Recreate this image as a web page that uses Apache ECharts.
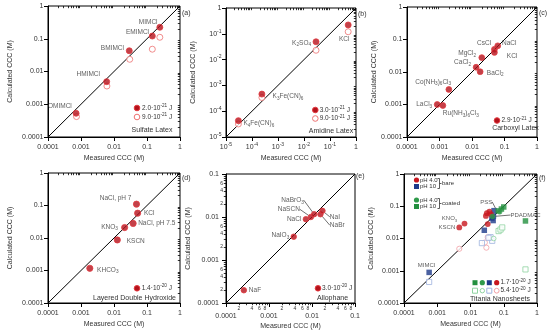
<!DOCTYPE html>
<html><head><meta charset="utf-8">
<script src="https://cdn.jsdelivr.net/npm/echarts@6/dist/echarts.min.js"></script>
<style>html,body{margin:0;padding:0;background:#fff}#c{width:550px;height:333px}</style>
</head><body><div id="c"></div>
<script>
// ---------------- data ----------------
const xTitle = 'Measured CCC (M)';
const yTitle = 'Calculated CCC (M)';
const decadeLabels = ['0.0001', '0.001', '0.01', '0.1', '1'];
const expLabels = ['10^{-5}', '10^{-4}', '10^{-3}', '10^{-2}', '10^{-1}', '1'];
const alloLabels = ['0.0001', '0.001', '0.01', '0.1'];
const alloMinorX = [2, 4, 6, 8];
const alloMinorY = [2, 4, 6];
const panelTags = ['(a)', '(b)', '(c)', '(d)', '(e)', '(f)'];

// (a) Sulfate latex
const aNames = ['OMIMCl', 'HMIMCl', 'BMIMCl', 'EMIMCl', 'MIMCl'];
const aMeasured = [0.00071, 0.0060, 0.029, 0.145, 0.245];
const aCalcLow = [0.00053, 0.0049, 0.043, 0.121, 0.224];
const aMeasuredHigh = [0.00073, 0.0061, 0.030, 0.145, 0.245];
const aCalcHigh = [0.00042, 0.0036, 0.0236, 0.048, 0.111];
const aLegend = ['2.0·10^{-21} J', '9.0·10^{-21} J', 'Sulfate Latex'];

// (b) Amidine latex
const bNames = ['K_4Fe(CN)_6', 'K_3Fe(CN)_6', 'K_2SO_4', 'KCl'];
const bMeasured = [0.000030, 0.00024, 0.029, 0.50];
const bCalcLow = [0.000043, 0.00046, 0.049, 0.22];
const bCalcHigh = [0.000032, 0.00034, 0.023, 0.12];
const bLegend = ['3.0·10^{-21} J', '9.0·10^{-21} J', 'Amidine Latex'];

// (c) Carboxyl latex
const cNames = ['LaCl_3', 'Ru(NH_3)_6Cl_3', 'Co(NH_3)_6Cl_3', 'CaCl_2', 'BaCl_2', 'MgCl_2', 'CsCl', 'KCl', 'NaCl'];
const cMeasured = [0.00085, 0.00127, 0.00194, 0.0134, 0.0178, 0.020, 0.049, 0.049, 0.062];
const cCalc = [0.0010, 0.00093, 0.0029, 0.014, 0.0102, 0.0277, 0.050, 0.040, 0.064];
const cLegend = ['2.9·10^{-21} J', 'Carboxyl Latex'];

// (d) Layered double hydroxide
const dNames = ['KHCO_3', 'KSCN', 'KNO_3', 'NaCl, pH 7.5', 'KCl', 'NaCl, pH 7'];
const dMeasured = [0.00185, 0.0126, 0.021, 0.038, 0.052, 0.048];
const dCalc = [0.00117, 0.0087, 0.021, 0.028, 0.058, 0.11];
const dLegend = ['1.4·10^{-20} J', 'Layered Double Hydroxide'];

// (e) Allophane
const eNames = ['NaF', 'NaIO_3', 'NaCl', 'NaSCN', 'NaBrO_3', 'NaBr', 'NaI'];
const eMeasured = [0.00026, 0.00376, 0.0072, 0.0094, 0.0112, 0.0157, 0.0175];
const eCalc = [0.000198, 0.00348, 0.0089, 0.0100, 0.0116, 0.0116, 0.0139];
const eLegend = ['3.0·10^{-20} J', 'Allophane'];

// (f) Titania nanosheets
const fBare4Names = ['KSCN', 'KNO_3', '', '', '', '', ''];
const fBare4Measured = [0.0046, 0.0066, 0.029, 0.031, 0.037, 0.041, 0.033];
const fBare4Calc = [0.022, 0.029, 0.050, 0.061, 0.068, 0.057, 0.028];
const fBare10Names = ['MIMCl', '', '', '', '', ''];
const fBare10Measured = [0.00057, 0.026, 0.044, 0.049, 0.051, 0.048];
const fBare10Calc = [0.00089, 0.018, 0.043, 0.050, 0.073, 0.036];
const fCoat4Names = ['PDADMAC', ''];
const fCoat4Measured = [0.046, 0.075];
const fCoat4Calc = [0.048, 0.068];
const fCoat10Names = ['PSS', '', '', ''];
const fCoat10Measured = [0.068, 0.085, 0.10, 0.45];
const fCoat10Calc = [0.072, 0.082, 0.095, 0.035];
const fBare4OpenMeasured = [0.0046, 0.030, 0.027, 0.033];
const fBare4OpenCalc = [0.0048, 0.0052, 0.0075, 0.011];
const fBare10OpenMeasured = [0.00057, 0.022, 0.045, 0.040, 0.035];
const fBare10OpenCalc = [0.00045, 0.0072, 0.0085, 0.011, 0.0105];
const fCoat4OpenMeasured = [0.050];
const fCoat4OpenCalc = [0.010];
const fCoat10OpenMeasured = [0.07, 0.08, 0.09, 0.45];
const fCoat10OpenCalc = [0.017, 0.019, 0.022, 0.0011];
const fLegend = ['pH 4.0', 'pH 10', 'bare', 'coated', '1.7·10^{-20} J', '5.4·10^{-20} J', 'Titania Nanosheets'];

// ---------------- layout / style ----------------
const FONT = "'Liberation Sans', Arial, Helvetica, sans-serif";
const TXT = '#333';
const RED = '#b3121b', RED_EDGE = '#e23a40', PINK = '#ee7272';
const F_RED = '#c8161e', F_NAVY = '#1d3a8a', F_GREEN = '#2f9a4a', F_GREEN_SQ = '#23903f';
const F_PINK = '#f2a0a6', F_LBLUE = '#9fb3df', F_LGREEN = '#8fd3a0';

const grids = [
  {left: 48, top: 6, width: 132, height: 131},
  {left: 226, top: 8, width: 130, height: 129},
  {left: 407, top: 7, width: 130, height: 130},
  {left: 48, top: 173, width: 132, height: 130},
  {left: 226, top: 174, width: 129, height: 129},
  {left: 404, top: 174, width: 133, height: 129}
];
const ranges = [[-4, 0], [-5, 0], [-4, 0], [-4, 0], [-4, -1], [-4, 0]];
const labelSets = [decadeLabels, expLabels, decadeLabels, decadeLabels, alloLabels, decadeLabels];
const yGaps = [34.5, 29.5, 27.5, 34.5, 34.5, 29.5];

function rich(s) {
  return String(s).replace(/_(\d+)/g, '{s|$1}').replace(/\^\{([^}]*)\}/g, '{p|$1}');
}
function richStyles(base) {
  const sm = base * 0.72;
  return {
    s: {fontSize: sm, verticalAlign: 'bottom', lineHeight: sm, fontFamily: FONT, color: TXT, fill: TXT},
    p: {fontSize: sm, verticalAlign: 'top', lineHeight: sm, fontFamily: FONT, color: TXT, fill: TXT}
  };
}

const xAxes = [], yAxes = [], gridOpts = [];
grids.forEach(g => gridOpts.push(Object.assign({show: true, borderColor: '#000', borderWidth: 1, containLabel: false}, g)));
grids.forEach(g => gridOpts.push(Object.assign({show: false}, g)));

function minorVals(lo, hi, ks) {
  const v = [];
  for (let e = lo; e < hi; e++) ks.forEach(k => v.push(e + Math.log10(k)));
  return v;
}

ranges.forEach((r, i) => {
  const [lo, hi] = r;
  const labels = labelSets[i];
  const isE = i === 4;
  const common = {
    type: 'log', logBase: 10, gridIndex: i, min: Math.pow(10, lo), max: Math.pow(10, hi),
    nameLocation: 'middle',
    nameTextStyle: {fontSize: 7, color: TXT, fontFamily: FONT},
    axisLine: {show: true, onZero: false, lineStyle: {color: '#000', width: 1}},
    axisTick: {show: true, inside: false, length: 4, lineStyle: {color: '#000', width: 1}},
    splitLine: {show: false},
    axisLabel: {
      fontSize: 7, color: TXT, fontFamily: FONT, lineHeight: 10, rich: richStyles(7),
      showMinLabel: true, showMaxLabel: true,
      formatter: v => rich(labels[Math.round(Math.log10(v)) - lo])
    }
  };
  xAxes.push(Object.assign({}, common, {
    name: xTitle, nameGap: 17.5,
    axisLabel: Object.assign({}, common.axisLabel, {margin: isE ? 8.5 : 5})
  }));
  yAxes.push(Object.assign({}, common, {
    name: yTitle, nameGap: yGaps[i],
    axisLabel: Object.assign({}, common.axisLabel, {margin: isE ? 7 : 4.5})
  }));
});

ranges.forEach((r, i) => {
  const [lo, hi] = r;
  const isE = i === 4;
  const base = {
    type: 'value', gridIndex: 6 + i, min: lo, max: hi,
    axisLine: {show: false}, splitLine: {show: false},
    axisTick: {show: true, inside: false, length: 2.2, customValues: minorVals(lo, hi, [2, 3, 4, 5, 6, 7, 8, 9]), lineStyle: {color: '#000', width: 0.8}}
  };
  const digit = v => String(Math.round(Math.pow(10, v - Math.floor(v + 1e-9))));
  xAxes.push(Object.assign({}, base, {
    axisLabel: isE ? {show: true, fontSize: 5, color: TXT, fontFamily: FONT, margin: 3, customValues: minorVals(lo, hi, alloMinorX), formatter: digit} : {show: false}
  }));
  yAxes.push(Object.assign({}, base, {
    axisLabel: isE ? {show: true, fontSize: 5, color: TXT, fontFamily: FONT, margin: 3, customValues: minorVals(lo, hi, alloMinorY), formatter: digit} : {show: false}
  }));
});

// label placements: [align, dx, dy, leaderLine]
const placeA = {OMIMCl: ['right', -4.3, -7.3], HMIMCl: ['right', -6.7, -7.7], BMIMCl: ['right', -5.3, -3], EMIMCl: ['right', -3.3, -4], MIMCl: ['right', -2.3, -5]};
const placeB = {'K_4Fe(CN)_6': ['left', 5, 2.6], 'K_3Fe(CN)_6': ['left', 10.7, 2.4], 'K_2SO_4': ['right', -5, 1], 'KCl': ['center', -4, 14]};
const placeC = {NaCl: ['left', 4.3, -2.7], CsCl: ['right', -3.3, -6], KCl: ['left', 12.4, 3.3], MgCl_2: ['right', -5.7, -4.4], CaCl_2: ['right', -5, -4.6], BaCl_2: ['left', 6.7, 1], 'Co(NH_3)_6Cl_3': ['right', 2.3, -7.6], LaCl_3: ['right', -5, 0], 'Ru(NH_3)_6Cl_3': ['left', 0, 8]};
const placeD = {'NaCl, pH 7': ['right', -5, -6], KCl: ['left', 6.3, 0], 'NaCl, pH 7.5': ['left', 5, 0], KNO_3: ['right', -6.7, -0.7], KSCN: ['left', 9.4, 1], KHCO_3: ['left', 7.3, 1.7]};
const placeE = {NaF: ['left', 5, 0], NaIO_3: ['right', -4.5, -1.7], NaCl: ['right', -4.5, 0], NaSCN: ['right', -11, -7.7, 1], NaBrO_3: ['right', -10.3, -14, 1], NaI: ['left', 7.4, 6, 1], NaBr: ['left', 9.4, 11, 1]};
const placeF = {MIMCl: ['center', -2.7, -7], KNO_3: ['right', -7.3, -5.6], KSCN: ['right', -4, 0], PSS: ['right', -6, -9, 1], PDADMAC: ['left', 18, -1.5, 1]};

function scatter(gi, xs, ys, names, place, sym, size, style, z, fontSize) {
  const data = xs.map((x, k) => {
    const it = {value: [x, ys[k]], name: names ? names[k] : ''};
    const pl = names && place ? place[names[k]] : null;
    if (pl && pl[3]) it.labelLine = {show: true};
    return it;
  });
  const s = {
    type: 'scatter', xAxisIndex: gi, yAxisIndex: gi, data, symbol: sym, symbolSize: size,
    itemStyle: style, z: z || 3, silent: true, emphasis: {disabled: true},
    label: {show: false},
    labelLine: {show: false, lineStyle: {color: '#333', width: 0.7}}
  };
  if (names) {
    const fs = fontSize || 6.5;
    s.label = {show: true, position: 'right', fontSize: fs, color: TXT, fontFamily: FONT, lineHeight: fs * 1.45, rich: richStyles(fs),
      formatter: p => p.name ? rich(p.name) : ''};
    s.labelLayout = p => {
      const pl = place[names[p.dataIndex]];
      if (!pl) return {};
      const cx = p.rect.x + p.rect.width / 2, cy = p.rect.y + p.rect.height / 2;
      return {x: cx + pl[1], y: cy + pl[2], align: pl[0], verticalAlign: 'middle'};
    };
  }
  return s;
}
function diag(gi) {
  const lo = Math.pow(10, ranges[gi][0]), hi = Math.pow(10, ranges[gi][1]);
  return {type: 'line', xAxisIndex: gi, yAxisIndex: gi, data: [[lo, lo], [hi, hi]], symbol: 'none', silent: true,
    lineStyle: {color: '#000', width: 1}, z: 1};
}

const FILL = {color: RED, borderColor: RED_EDGE, borderWidth: 1};
const OPEN = {color: '#fff', borderColor: PINK, borderWidth: 1};

const series = [];
for (let i = 0; i < 6; i++) series.push(diag(i));
// a
series.push(scatter(0, aMeasuredHigh, aCalcHigh, null, null, 'circle', 6, OPEN, 2));
series.push(scatter(0, aMeasured, aCalcLow, aNames, placeA, 'circle', 6, FILL, 3));
// b
series.push(scatter(1, bMeasured, bCalcHigh, null, null, 'circle', 6, OPEN, 2));
series.push(scatter(1, bMeasured, bCalcLow, bNames, placeB, 'circle', 6, FILL, 3));
// c
series.push(scatter(2, cMeasured, cCalc, cNames, placeC, 'circle', 5.8, FILL, 3));
// d
series.push(scatter(3, dMeasured, dCalc, dNames, placeD, 'circle', 6.2, FILL, 3));
// e
series.push(scatter(4, eMeasured, eCalc, eNames, placeE, 'circle', 5.5, FILL, 3));
// f open
series.push(scatter(5, fBare4OpenMeasured, fBare4OpenCalc, null, null, 'circle', 5.2, {color: '#fff', borderColor: F_PINK, borderWidth: 1}, 2));
series.push(scatter(5, fBare10OpenMeasured, fBare10OpenCalc, null, null, 'rect', 5.2, {color: '#fff', borderColor: F_LBLUE, borderWidth: 1}, 2));
series.push(scatter(5, fCoat4OpenMeasured, fCoat4OpenCalc, null, null, 'circle', 4.6, {color: '#fff', borderColor: F_LGREEN, borderWidth: 1}, 2));
series.push(scatter(5, fCoat10OpenMeasured, fCoat10OpenCalc, null, null, 'rect', 5.2, {color: '#fff', borderColor: F_LGREEN, borderWidth: 1}, 2));
// f filled
series.push(scatter(5, fBare10Measured, fBare10Calc, fBare10Names, placeF, 'rect', 5.5, {color: F_NAVY}, 3, 6));
series.push(scatter(5, fBare4Measured, fBare4Calc, fBare4Names, placeF, 'circle', 5.8, {color: F_RED}, 3, 6));
series.push(scatter(5, fCoat10Measured, fCoat10Calc, fCoat10Names, placeF, 'rect', 5.5, {color: F_GREEN_SQ}, 3, 6));
series.push(scatter(5, fCoat4Measured, fCoat4Calc, fCoat4Names, placeF, 'circle', 5.5, {color: F_GREEN}, 3, 6));

// ---------------- legends & annotations (graphic) ----------------
const gfx = [];
function gCircle(cx, cy, r, fill, stroke) { gfx.push({type: 'circle', shape: {cx, cy, r}, style: {fill, stroke: stroke || null, lineWidth: 1}, silent: true, z: 10}); }
function gRect(cx, cy, s, fill, stroke) { gfx.push({type: 'rect', shape: {x: cx - s / 2, y: cy - s / 2, width: s, height: s}, style: {fill, stroke: stroke || null, lineWidth: 1}, silent: true, z: 10}); }
function gText(x, y, text, align, size) {
  const fs = size || 6.5;
  gfx.push({type: 'text', x, y, silent: true, z: 10,
    style: {text: rich(text), fill: TXT, fontSize: fs, fontFamily: FONT, align: align || 'left', verticalAlign: 'middle', lineHeight: fs * 1.45, rich: richStyles(fs)}});
}
function gLine(points) { gfx.push({type: 'polyline', shape: {points}, style: {stroke: '#333', lineWidth: 0.8, fill: null}, silent: true, z: 10}); }

// panel tags
[[182, 13], [358, 14], [539, 13], [182, 178], [356, 176], [539, 178]].forEach((p, i) => gText(p[0], p[1], panelTags[i], 'left', 7));
// a
gCircle(137, 108, 2.8, RED, RED_EDGE); gText(142, 108, aLegend[0]);
gCircle(137, 117, 2.8, '#fff', PINK); gText(142, 117, aLegend[1]);
gText(152, 130, aLegend[2], 'center', 7);
// b
gCircle(315.3, 110, 2.8, RED, RED_EDGE); gText(319.7, 110, bLegend[0]);
gCircle(315.3, 118.5, 2.8, '#fff', PINK); gText(319.7, 118.5, bLegend[1]);
gText(331, 131.5, bLegend[2], 'center', 7);
// c
gCircle(497, 120.5, 2.8, RED, RED_EDGE); gText(501.5, 120.5, cLegend[0]);
gText(515.5, 128.5, cLegend[1], 'center', 7);
// d
gCircle(137, 288.3, 2.8, RED, RED_EDGE); gText(141.7, 288.3, dLegend[0]);
gText(134.5, 298.5, dLegend[1], 'center', 7);
// e
gCircle(318, 288.3, 2.8, RED, RED_EDGE); gText(322, 288.3, eLegend[0]);
gText(332.5, 298.5, eLegend[1], 'center', 7);
// f top-left
gCircle(416.5, 180, 2.6, F_RED); gText(420, 180, fLegend[0], 'left', 6);
gRect(416.5, 186.5, 5, F_NAVY); gText(420, 186.5, fLegend[1], 'left', 6);
gLine([[437.5, 178.5], [439.5, 178.5], [439.5, 188.5], [437.5, 188.5]]); gLine([[439.5, 183.5], [441.5, 183.5]]);
gText(442, 183.5, fLegend[2], 'left', 6);
gCircle(416.5, 200, 2.6, F_GREEN); gText(420, 200, fLegend[0], 'left', 6);
gRect(416.5, 206.5, 5, F_GREEN_SQ); gText(420, 206.5, fLegend[1], 'left', 6);
gLine([[437.5, 198.5], [439.5, 198.5], [439.5, 208.5], [437.5, 208.5]]); gLine([[439.5, 203.5], [441.5, 203.5]]);
gText(442, 203.5, fLegend[3], 'left', 6);
// f bottom-right
gRect(475, 282.7, 5, F_GREEN_SQ); gCircle(482.3, 282.7, 2.6, F_GREEN); gRect(489.3, 282.7, 5, F_NAVY); gCircle(496.7, 282.7, 2.6, F_RED);
gText(500.5, 282.7, fLegend[4]);
gRect(475, 290.7, 5, '#fff', F_LGREEN); gCircle(482.3, 290.7, 2.2, '#fff', F_LGREEN); gRect(489.3, 290.7, 5, '#fff', F_LBLUE); gCircle(496.7, 290.7, 2.4, '#fff', F_PINK);
gText(500.5, 290.7, fLegend[5]);
gText(500, 299, fLegend[6], 'center', 7);

const chart = echarts.init(document.getElementById('c'), null, {renderer: 'canvas'});
chart.setOption({
  animation: false,
  backgroundColor: '#fff',
  textStyle: {fontFamily: FONT},
  grid: gridOpts,
  xAxis: xAxes,
  yAxis: yAxes,
  series,
  graphic: gfx
});
</script>
</body></html>
